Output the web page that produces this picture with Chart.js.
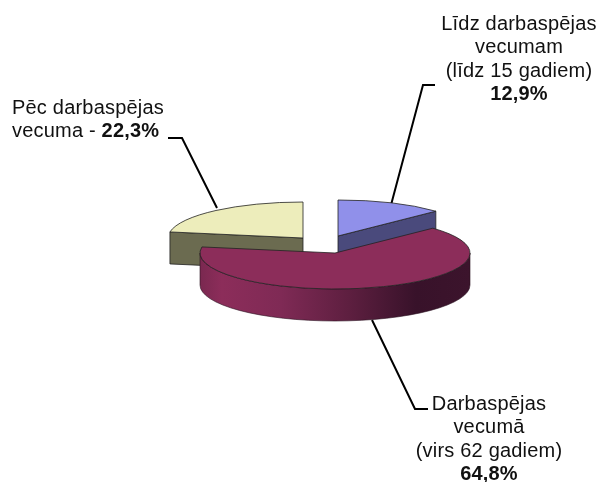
<!DOCTYPE html>
<html><head><meta charset="utf-8">
<style>html,body{margin:0;padding:0;background:#fff}#w{width:598px;height:482px}</style>
<script src="https://cdn.jsdelivr.net/npm/chart.js@4"></script></head>
<body><div id="w"><canvas id="c" width="598" height="482"></canvas></div>
<script>
const categories = ['Līdz darbaspējas vecumam (līdz 15 gadiem)', 'Darbaspējas vecumā (virs 62 gadiem)', 'Pēc darbaspējas vecuma'];
const shares = [12.9, 64.8, 22.3];
const topColors = ['#9090ea', '#8c2d5a', '#ededbb'];
const sideColors = ['#4a4a7c', '#7d2a55', '#6b6b50'];
const sliceCentres = [[338, 236], [335, 253], [303, 238]];
const labelRuns = [
  [[['Līdz darbaspējas',0]],[['vecumam',0]],[['(līdz 15 gadiem)',0]],[['12,9%',1]]],
  [[['Darbaspējas',0]],[['vecumā',0]],[['(virs 62 gadiem)',0]],[['64,8%',1]]],
  [[['Pēc darbaspējas',0]],[['vecuma - ',0],['22,3%',1]]]
];
const labelAnchors = [[519,24,'center'],[489,404,'center'],[12,108,'left']];
const leaders = [[[435,85],[423,85],[391,205]],[[428,409],[415,409],[372,320]],[[168,138],[182,138],[217,208]]];
const RADIUS = 135, SQUASH = 36/135, DEPTH = 32, FONT = 20, LH = 23.6;

const pie3d = {
  id:'pie3d',
  beforeDatasetsDraw(chart){
    const ctx = chart.ctx, arcs = chart.getDatasetMeta(0).data;
    const ink = '#222';
    ctx.save(); ctx.strokeStyle='#000'; ctx.lineWidth=2; ctx.lineJoin='miter';
    leaders.forEach(l=>{ctx.beginPath();l.forEach((p,i)=>i?ctx.lineTo(p[0],p[1]):ctx.moveTo(p[0],p[1]));ctx.stroke();});
    ctx.restore();
    const topPath=(a,cx,cy)=>{ctx.beginPath();ctx.moveTo(cx,cy);ctx.ellipse(cx,cy,a.outerRadius,a.outerRadius*SQUASH,0,a.startAngle,a.endAngle);ctx.closePath();};
    [0,2,1].forEach(i=>{
      const a = arcs[i], [cx,cy] = sliceCentres[i], r = a.outerRadius, ry = r*SQUASH;
      const pt = t=>[cx+r*Math.cos(t), cy+ry*Math.sin(t)];
      const face = t=>{const p=pt(t);ctx.beginPath();ctx.moveTo(cx,cy);ctx.lineTo(p[0],p[1]);ctx.lineTo(p[0],p[1]+DEPTH);ctx.lineTo(cx,cy+DEPTH);ctx.closePath();ctx.fillStyle=sideColors[i];ctx.fill();ctx.strokeStyle=ink;ctx.lineWidth=0.8;ctx.stroke();};
      if(Math.cos(a.startAngle)<-1e-6) face(a.startAngle);
      if(Math.cos(a.endAngle)>1e-6) face(a.endAngle);
      const s=Math.max(a.startAngle,0), e=Math.min(a.endAngle,Math.PI);
      if(e>s){
        const g=ctx.createLinearGradient(cx-r,0,cx+r,0);
        g.addColorStop(0,'#7a2850');g.addColorStop(0.08,'#8c2d5a');g.addColorStop(0.3,'#7f2a55');
        g.addColorStop(0.55,'#5e1f40');g.addColorStop(0.8,'#38122a');g.addColorStop(1,'#3c142c');
        ctx.beginPath();ctx.ellipse(cx,cy,r,ry,0,s,e);ctx.ellipse(cx,cy+DEPTH,r,ry,0,e,s,true);ctx.closePath();
        ctx.fillStyle=g;ctx.fill();ctx.strokeStyle='#2a1020';ctx.lineWidth=0.6;ctx.stroke();
      }
      ctx.save();ctx.translate(cx,cy);ctx.scale(1,SQUASH);ctx.translate(-a.x,-a.y);a.draw(ctx);ctx.restore();
      topPath(a,cx,cy);ctx.strokeStyle=ink;ctx.lineWidth=0.8;ctx.stroke();
    });
    return false;
  },
  beforeDatasetDraw(){return false;},
  afterDraw(chart){
    const ctx=chart.ctx;ctx.save();ctx.fillStyle='#111';ctx.textBaseline='middle';ctx.letterSpacing='0.2px';
    const fn=b=>(b?'bold ':'')+FONT+'px "Liberation Sans", Arial, sans-serif';
    labelRuns.forEach((lines,i)=>{
      const [x,y,al]=labelAnchors[i];
      lines.forEach((runs,j)=>{
        let w=0;runs.forEach(r=>{ctx.font=fn(r[1]);w+=ctx.measureText(r[0]).width;});
        let px=al==='center'?x-w/2:x;
        runs.forEach(r=>{ctx.font=fn(r[1]);ctx.textAlign='left';ctx.fillText(r[0],px,y+j*LH);px+=ctx.measureText(r[0]).width;});
      });
    });
    ctx.restore();
  }
};
new Chart(document.getElementById('c'),{
  type:'pie',
  data:{labels:categories,datasets:[{data:shares,backgroundColor:topColors,borderWidth:0}]},
  options:{responsive:false,animation:false,radius:RADIUS,rotation:0,
    plugins:{legend:{display:false},tooltip:{enabled:false},title:{display:false}}},
  plugins:[pie3d]
});
</script></body></html>
